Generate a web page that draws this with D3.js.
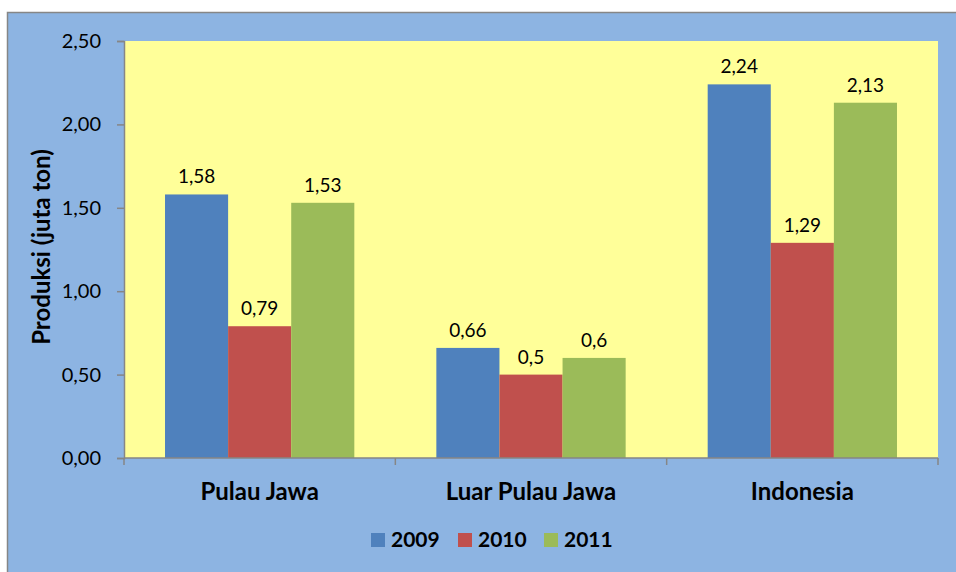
<!DOCTYPE html>
<html>
<head>
<meta charset="utf-8">
<script src="https://cdn.jsdelivr.net/npm/d3@7"></script>
<style>
  body { margin: 0; background: #fff; }
  svg { display: block; font-family: Lato, "Open Sans", sans-serif; }
</style>
</head>
<body>
<svg id="chart" width="956" height="572"></svg>
<script>
const categories = ["Pulau Jawa", "Luar Pulau Jawa", "Indonesia"];
const years = ["2009", "2010", "2011"];
const values2009 = [1.58, 0.66, 2.24];
const values2010 = [0.79, 0.5, 1.29];
const values2011 = [1.53, 0.6, 2.13];
const labels2009 = ["1,58", "0,66", "2,24"];
const labels2010 = ["0,79", "0,5", "1,29"];
const labels2011 = ["1,53", "0,6", "2,13"];
const yTicks = [0, 0.5, 1, 1.5, 2, 2.5];
const colors = ["#4F81BD", "#C0504D", "#9BBB59"];

const series = [values2009, values2010, values2011];
const seriesLabels = [labels2009, labels2010, labels2011];

const svg = d3.select("#chart");

// outer chart area
svg.append("rect")
  .attr("x", 7.5).attr("y", 12.5)
  .attr("width", 960).attr("height", 570)
  .attr("fill", "#8DB4E2")
  .attr("stroke", "#868686").attr("stroke-width", 1.5);

const plot = { left: 124, right: 938, top: 41, bottom: 458 };

const x = d3.scaleBand()
  .domain(categories)
  .range([plot.left, plot.right]);

const x1 = d3.scaleBand()
  .domain(years)
  .range([0, x.bandwidth()])
  .paddingInner(0)
  .paddingOuter(0.65);

const y = d3.scaleLinear()
  .domain([0, 2.5])
  .range([plot.bottom, plot.top]);

svg.append("rect")
  .attr("x", plot.left).attr("y", plot.top)
  .attr("width", plot.right - plot.left).attr("height", plot.bottom - plot.top)
  .attr("fill", "#FFFF99");

// bars
const groups = svg.append("g").selectAll("g")
  .data(categories)
  .join("g")
  .attr("transform", d => `translate(${x(d)},0)`);

years.forEach((yr, si) => {
  groups.append("rect")
    .attr("x", x1(yr))
    .attr("width", x1.bandwidth())
    .attr("y", (d, i) => y(series[si][i]))
    .attr("height", (d, i) => y(0) - y(series[si][i]))
    .attr("fill", colors[si]);
  groups.append("text")
    .attr("x", x1(yr) + x1.bandwidth() / 2)
    .attr("y", (d, i) => y(series[si][i]) - 11)
    .attr("text-anchor", "middle")
    .attr("font-size", 19)
    .attr("fill", "#000")
    .text((d, i) => seriesLabels[si][i]);
});

// y axis
const yAxis = d3.axisLeft(y)
  .tickValues(yTicks)
  .tickSize(7)
  .tickPadding(16)
  .tickFormat(d => d3.format(".2f")(d).replace(".", ","));

const gy = svg.append("g")
  .attr("transform", `translate(${plot.left},0)`)
  .call(yAxis);
gy.selectAll("path, line").attr("stroke", "#868686").attr("stroke-width", 1.5);
gy.selectAll("text").attr("font-size", 20).attr("fill", "#000")
  .attr("font-family", "Lato, sans-serif");

// x axis
const gx = svg.append("g")
  .attr("transform", `translate(0,${plot.bottom})`);
gx.append("line")
  .attr("x1", plot.left).attr("x2", plot.right)
  .attr("stroke", "#868686").attr("stroke-width", 1.5);
gx.selectAll(".tick")
  .data(categories.concat(["end"]))
  .join("line")
  .attr("x1", (d, i) => i < categories.length ? x(d) : plot.right)
  .attr("x2", (d, i) => i < categories.length ? x(d) : plot.right)
  .attr("y1", 0).attr("y2", 7)
  .attr("stroke", "#868686").attr("stroke-width", 1.5);
gx.selectAll("text")
  .data(categories)
  .join("text")
  .attr("x", d => x(d) + x.bandwidth() / 2)
  .attr("y", 42)
  .attr("text-anchor", "middle")
  .attr("font-size", 24)
  .attr("font-weight", "bold")
  .text(d => d);

// y label
svg.append("text")
  .attr("transform", `translate(50,247) rotate(-90)`)
  .attr("text-anchor", "middle")
  .attr("font-size", 24)
  .attr("font-weight", "bold")
  .text("Produksi (juta ton)");

// legend
const legendX = [371, 458, 544];
const legend = svg.append("g").selectAll("g")
  .data(years)
  .join("g")
  .attr("transform", (d, i) => `translate(${legendX[i]},533)`);
legend.append("rect")
  .attr("width", 14).attr("height", 14)
  .attr("fill", (d, i) => colors[i]);
legend.append("text")
  .attr("x", 20).attr("y", 14)
  .attr("font-size", 21)
  .attr("font-weight", "bold")
  .text(d => d);
</script>
</body>
</html>
